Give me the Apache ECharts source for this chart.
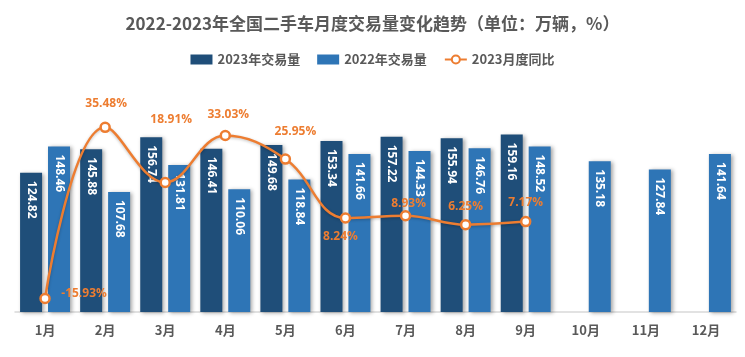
<!DOCTYPE html>
<html>
<head>
<meta charset="utf-8">
<script src="https://cdn.jsdelivr.net/npm/echarts@6/dist/echarts.min.js"></script>
<style>html,body{margin:0;padding:0;background:#fff}#c{width:745px;height:357px}</style>
</head>
<body>
<div id="c"></div>
<script>
var months = ['1月','2月','3月','4月','5月','6月','7月','8月','9月','10月','11月','12月'];
var vol2023 = [124.82,145.88,156.74,146.41,149.68,153.34,157.22,155.94,159.16,null,null,null];
var vol2022 = [148.46,107.68,131.81,110.06,118.84,141.66,144.33,146.76,148.52,135.18,127.84,141.64];
var yoy2023 = [-15.93,35.48,18.91,33.03,25.95,8.24,8.93,6.25,7.17,null,null,null];
// label placement offsets for the YoY labels (layout only)
var yoyLabelOffsets = [[39,-5],[1,-24],[6,-63],[3,-21],[10,-27],[-5,19],[3,-12],[0,-18],[0,-19]];

var FONT = '"Noto Sans CJK SC","Noto Sans",sans-serif';
var GRAY = '#595959';
var C23 = '#1F4E79', C22 = '#2E75B6', CO = '#ED7D31';

var barLabel = {
  show: true, position: 'insideTop', rotate: -90, align: 'left', verticalAlign: 'middle',
  distance: 8, color: '#fff', fontSize: 12, fontWeight: 'bold', fontFamily: '"Open Sans","Noto Sans",sans-serif'
};
var barShadow = { shadowColor: 'rgba(0,0,0,0.35)', shadowBlur: 4, shadowOffsetX: 2, shadowOffsetY: 1 };

var lineData = yoy2023.map(function(v, i){
  if (v === null) return null;
  var o = yoyLabelOffsets[i] || [0,-15];
  return { value: v, label: { offset: o } };
});

var chart = echarts.init(document.getElementById('c'), null, {renderer:'canvas'});
chart.setOption({
  animation: false,
  backgroundColor: '#fff',
  title: {
    text: '2022-2023年全国二手车月度交易量变化趋势（单位：万辆，%）',
    left: 'center', top: 10,
    textStyle: { fontFamily: FONT, fontSize: 17, fontWeight: 'bold', color: GRAY }
  },
  legend: {
    top: 48, left: 'center', itemGap: 17, itemWidth: 22, itemHeight: 10,
    textStyle: { fontFamily: FONT, fontSize: 13, color: GRAY, fontWeight: 'bold' },
    data: [
      { name: '2023年交易量', icon: 'rect' },
      { name: '2022年交易量', icon: 'rect' },
      { name: '2023月度同比' }
    ]
  },
  grid: { left: 15, right: 9, top: 89, bottom: 45 },
  xAxis: {
    type: 'category', data: months,
    axisLine: { lineStyle: { color: '#d9d9d9', width: 1.5 } },
    axisTick: { show: false },
    axisLabel: { fontFamily: FONT, fontSize: 13, fontWeight: 'bold', color: GRAY, margin: 12 }
  },
  yAxis: [
    { type: 'value', min: 0, max: 200, show: false, splitLine: { show: false } },
    { type: 'value', min: -20, max: 47, show: false, splitLine: { show: false } }
  ],
  series: [
    {
      name: '2023年交易量', type: 'bar', data: vol2023, barWidth: 22, barGap: '27%',
      itemStyle: Object.assign({ color: C23 }, barShadow), label: barLabel
    },
    {
      name: '2022年交易量', type: 'bar', data: vol2022, barWidth: 22, barGap: '27%',
      itemStyle: Object.assign({ color: C22 }, barShadow), label: barLabel
    },
    {
      name: '2023月度同比', type: 'line', yAxisIndex: 1, data: lineData, smooth: 0.4,
      symbol: 'circle', symbolSize: 9, z: 5,
      lineStyle: { color: CO, width: 2.5, shadowColor: 'rgba(0,0,0,0.25)', shadowBlur: 3, shadowOffsetY: 1 },
      itemStyle: { color: '#fff', borderColor: CO, borderWidth: 2.5 },
      label: {
        show: true, position: 'inside', color: CO, fontSize: 12, fontWeight: 'bold',
        fontFamily: '"Open Sans","Noto Sans",sans-serif',
        formatter: function(p){ return p.value.toFixed(2) + '%'; }
      }
    }
  ]
});
</script>
</body>
</html>
